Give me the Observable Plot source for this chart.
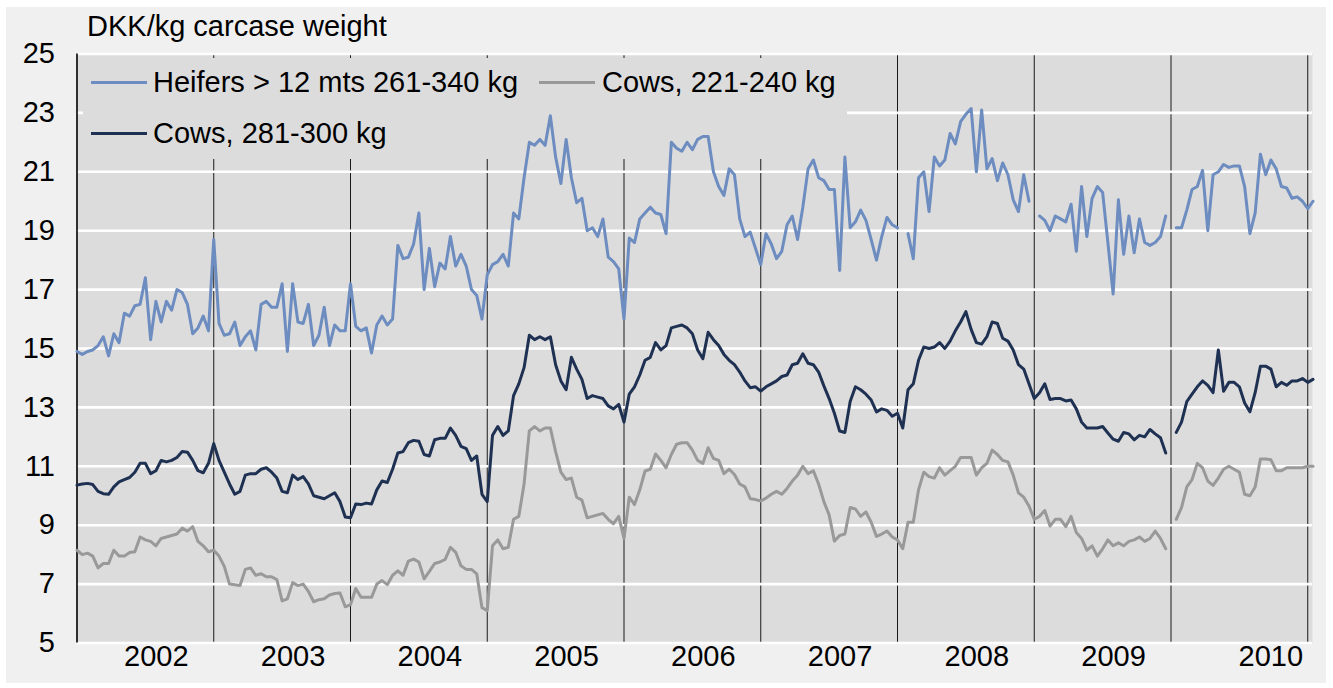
<!DOCTYPE html>
<html>
<head>
<meta charset="utf-8">
<script src="https://cdn.jsdelivr.net/npm/d3@7"></script>
<script src="https://cdn.jsdelivr.net/npm/@observablehq/plot@0.6"></script>
<style>
  body { margin: 0; background: #ffffff; font-family: Arial, "Liberation Sans", sans-serif; }
  #wrap { position: relative; width: 1333px; height: 688px; overflow: hidden; }
  #bg { position: absolute; left: 6px; top: 7px; width: 1320px; height: 676px; background: #f0f0f0; }
  .layer { position: absolute; left: 0; top: 0; }
  #title { position: absolute; left: 87px; top: 12px; font-size: 29px; line-height: 1; color: #000; white-space: nowrap; }
  #legend { position: absolute; left: 83px; top: 58px; width: 764px; height: 101px; background: #dcdcdc; }
  .lg { position: absolute; font-size: 29px; line-height: 1; color: #000; white-space: nowrap; }
  .sw { position: absolute; height: 3px; width: 56px; }
</style>
</head>
<body>
<div id="wrap">
  <div id="bg"></div>
  <div id="base" class="layer"></div>
  <div id="legend"></div>
  <div id="lines" class="layer"></div>
  <div id="title">DKK/kg carcase weight</div>
</div>
<script>
// ---- data (2-week steps from start of 2002; null = gap in the series) ----
const startYear = 2002;
const stepsPerYear = 26;
const years = [2002, 2003, 2004, 2005, 2006, 2007, 2008, 2009, 2010];
const yTicks = [5, 7, 9, 11, 13, 15, 17, 19, 21, 23, 25];
const seriesNames = ["Heifers > 12 mts 261-340 kg", "Cows, 221-240 kg", "Cows, 281-300 kg"];

const heifers = [
 14.9,14.8,14.9,14.95,15.1,15.4,14.75,15.5,15.2,16.2,16.1,16.45,16.5,17.4,15.3,16.6,15.9,16.6,16.3,17.0,16.9,16.5,15.5,15.7,16.1,15.6,
 18.7,15.85,15.45,15.5,15.9,15.1,15.4,15.6,14.95,16.5,16.6,16.4,16.4,17.2,14.9,17.2,15.9,15.85,16.5,15.1,15.45,16.4,15.1,15.8,15.6,15.6,
 17.2,15.75,15.6,15.7,14.85,15.8,16.1,15.8,16.0,18.5,18.05,18.1,18.55,19.6,17.0,18.4,17.1,17.9,17.7,18.8,17.8,18.2,17.8,17.0,16.8,16.0,
 17.5,17.85,17.95,18.2,17.8,19.6,19.4,20.8,22.0,21.9,22.1,21.9,22.9,21.5,20.6,22.1,20.8,19.95,20.1,19.0,19.1,18.8,19.4,18.1,17.95,17.7,
 16.0,18.75,18.6,19.4,19.6,19.8,19.6,19.55,18.9,22.0,21.8,21.7,22.0,21.75,22.1,22.2,22.2,21.0,20.5,20.2,21.1,20.9,19.4,18.8,18.95,18.4,
 17.85,18.9,18.55,18.05,18.3,19.2,19.5,18.7,19.8,21.1,21.4,20.8,20.7,20.4,20.4,17.65,21.5,19.1,19.3,19.7,19.35,18.7,18.0,18.8,19.45,19.2,
 19.1,null,18.9,18.05,20.8,21.0,19.65,21.5,21.2,21.4,22.3,21.95,22.7,22.95,23.15,21.0,23.1,21.1,21.45,20.7,21.3,20.9,20.05,19.65,20.9,20.0,
 null,19.5,19.35,19.0,19.5,19.4,19.3,19.9,18.3,20.5,18.8,20.1,20.5,20.3,18.6,16.85,20.05,18.2,19.5,18.25,19.4,18.6,18.5,18.6,18.8,19.5,
 null,19.1,19.1,19.7,20.4,20.5,21.05,19.0,20.9,21.0,21.25,21.15,21.2,21.2,20.5,18.9,19.6,21.6,20.9,21.4,21.1,20.5,20.45,20.1,20.15,20.0,
 19.75,20.0
];

const cowsLight = [
 8.15,8.0,8.05,7.95,7.55,7.7,7.7,8.15,7.95,7.95,8.07,8.1,8.6,8.5,8.45,8.3,8.55,8.6,8.65,8.7,8.9,8.8,8.95,8.45,8.3,8.1,
 8.15,7.95,7.6,7.0,6.98,6.95,7.5,7.55,7.3,7.35,7.25,7.25,7.15,6.43,6.5,7.05,6.95,7.0,6.75,6.4,6.47,6.5,6.63,6.68,6.7,6.23,
 6.3,6.85,6.55,6.55,6.55,7.0,7.12,6.98,7.3,7.45,7.3,7.78,7.85,7.75,7.18,7.43,7.7,7.75,7.84,8.25,8.08,7.62,7.5,7.5,7.35,6.2,
 6.1,8.3,8.5,8.2,8.25,9.2,9.3,10.4,12.2,12.35,12.2,12.3,12.3,11.5,10.8,10.55,10.6,9.95,9.85,9.25,9.3,9.35,9.4,9.2,9.05,9.3,
 8.55,9.95,9.7,10.2,10.84,10.9,11.42,11.2,10.95,11.4,11.75,11.8,11.8,11.55,11.2,11.1,11.63,11.27,11.2,10.75,10.9,10.72,10.4,10.3,9.9,9.87,
 9.82,9.92,10.05,10.15,10.05,10.25,10.5,10.7,11.0,10.75,10.85,10.4,9.8,9.35,8.46,8.65,8.7,9.6,9.55,9.3,9.45,9.1,8.62,8.7,8.8,8.6,
 8.5,8.2,9.1,9.1,10.2,10.8,10.65,10.6,10.95,10.7,10.85,11.0,11.3,11.3,11.3,10.7,10.95,11.1,11.55,11.4,11.2,11.15,10.7,10.1,9.95,9.65,
 9.2,9.3,9.5,8.97,9.2,9.2,8.95,9.3,8.75,8.55,8.15,8.3,7.95,8.2,8.5,8.3,8.4,8.3,8.45,8.5,8.6,8.45,8.55,8.8,8.55,8.2,
 null,9.2,9.6,10.3,10.55,11.1,10.95,10.5,10.35,10.6,10.9,11.0,10.9,10.8,10.05,10.0,10.3,11.25,11.25,11.22,10.85,10.85,10.95,10.95,10.95,10.95,
 11.0,11.0
];

const cowsHeavy = [
 10.36,10.4,10.42,10.38,10.15,10.07,10.05,10.3,10.47,10.55,10.62,10.8,11.1,11.1,10.75,10.85,11.2,11.15,11.2,11.3,11.5,11.48,11.2,10.85,10.78,11.1,
 11.77,11.2,10.8,10.4,10.05,10.15,10.7,10.75,10.75,10.9,10.95,10.8,10.6,10.15,10.1,10.7,10.55,10.65,10.4,10.0,9.95,9.9,10.0,10.1,9.8,9.28,
 9.25,9.72,9.7,9.75,9.72,10.2,10.5,10.45,10.9,11.45,11.5,11.8,11.88,11.85,11.4,11.35,11.9,11.95,11.95,12.3,12.05,11.68,11.6,11.2,11.35,10.05,
 9.8,12.05,12.35,12.05,12.2,13.4,13.8,14.35,15.45,15.3,15.4,15.3,15.4,14.45,13.9,13.6,14.7,14.3,13.95,13.3,13.4,13.35,13.3,13.05,12.95,13.1,
 12.5,13.45,13.7,14.1,14.6,14.7,15.2,14.95,15.1,15.7,15.75,15.8,15.7,15.5,14.95,14.65,15.55,15.3,15.1,14.8,14.6,14.45,14.2,13.9,13.67,13.7,
 13.55,13.7,13.8,13.9,14.05,14.1,14.45,14.5,14.82,14.5,14.45,14.2,13.73,13.3,12.8,12.2,12.15,13.2,13.7,13.6,13.45,13.25,12.85,12.95,12.9,12.7,
 12.8,12.3,13.6,13.8,14.6,15.05,15.0,15.05,15.2,15.0,15.25,15.6,15.9,16.25,15.65,15.2,15.15,15.4,15.9,15.85,15.35,15.25,14.95,14.45,14.3,13.8,
 13.3,13.5,13.8,13.27,13.3,13.3,13.22,13.25,12.95,12.5,12.3,12.3,12.3,12.35,12.13,11.92,11.85,12.15,12.1,11.9,12.05,12.0,12.25,12.1,11.97,11.45,
 null,12.15,12.5,13.2,13.45,13.7,13.9,13.75,13.5,14.95,13.55,13.85,13.85,13.7,13.15,12.85,13.5,14.4,14.4,14.3,13.7,13.85,13.75,13.9,13.9,13.98,
 13.85,13.95
];

// ---- styling ----
const colors = ["#6d8cc0", "#999999", "#1f3152"];
const W = 1333, H = 688;
const margins = { marginLeft: 76.5, marginRight: 21, marginTop: 53.5, marginBottom: 45.5 };
const pxPerYear = 136.75;
const xDomain = [startYear, startYear + (W - margins.marginRight - margins.marginLeft) / pxPerYear];
const yDomain = [5, 25];
const font = 'Arial, "Liberation Sans", sans-serif';

const toRows = (arr) => arr.map((v, i) => ({ t: startYear + i / stepsPerYear, v }));

// base layer: background, rules, grid, axes
const yearEnds = years.map(y => y + 1);
const labelPos = years.map((y, i) => ({ y, x: y + (i === years.length - 1 ? 0.73 : 0.58) }));

const base = Plot.plot({
  width: W, height: H, ...margins,
  style: { background: "transparent", fontFamily: font, fontSize: "29px", color: "#000" },
  x: { domain: xDomain, axis: null },
  y: { domain: yDomain, axis: null },
  marks: [
    Plot.frame({ fill: "#dcdcdc", stroke: null }),
    Plot.ruleX(yearEnds, { y1: yDomain[0], y2: yDomain[1], stroke: "#1a1a1a", strokeWidth: 1 }),
    Plot.ruleY(yTicks, { stroke: "#ffffff", strokeWidth: 2.6 }),
    Plot.ruleX([startYear], { y1: yDomain[0], y2: yDomain[1], stroke: "#000", strokeWidth: 1.6 }),
    Plot.axisY({ ticks: yTicks, tickSize: 0, tickPadding: 22, fontSize: 29, fill: "#000", anchor: "left" }),
    Plot.text(labelPos, { x: "x", y: () => yDomain[0], text: d => String(d.y), dy: 14, fontSize: 29, fill: "#000" })
  ]
});
document.getElementById("base").appendChild(base);

// legend box (sits above grid/rules, below the series lines)
const legend = document.getElementById("legend");
const legendItems = [
  { name: seriesNames[0], color: colors[0], sx: 91, tx: 153, cy: 82 },
  { name: seriesNames[1], color: colors[1], sx: 539, tx: 602, cy: 82 },
  { name: seriesNames[2], color: colors[2], sx: 91, tx: 153, cy: 133 }
];
legendItems.forEach(it => {
  const sw = document.createElement("div");
  sw.className = "sw";
  sw.style.left = (it.sx - 83) + "px";
  sw.style.top = (it.cy - 1.5 - 58) + "px";
  sw.style.background = it.color;
  legend.appendChild(sw);
  const t = document.createElement("div");
  t.className = "lg";
  t.textContent = it.name;
  t.style.left = (it.tx - 83) + "px";
  t.style.top = (it.cy - 14.5 - 58) + "px";
  legend.appendChild(t);
});

// series layer
const lines = Plot.plot({
  width: W, height: H, ...margins,
  style: { background: "transparent", fontFamily: font },
  x: { domain: xDomain, axis: null },
  y: { domain: yDomain, axis: null },
  marks: [
    Plot.lineY(toRows(heifers), { x: "t", y: "v", stroke: colors[0], strokeWidth: 3 }),
    Plot.lineY(toRows(cowsLight), { x: "t", y: "v", stroke: colors[1], strokeWidth: 3 }),
    Plot.lineY(toRows(cowsHeavy), { x: "t", y: "v", stroke: colors[2], strokeWidth: 3 })
  ]
});
document.getElementById("lines").appendChild(lines);
</script>
</body>
</html>
